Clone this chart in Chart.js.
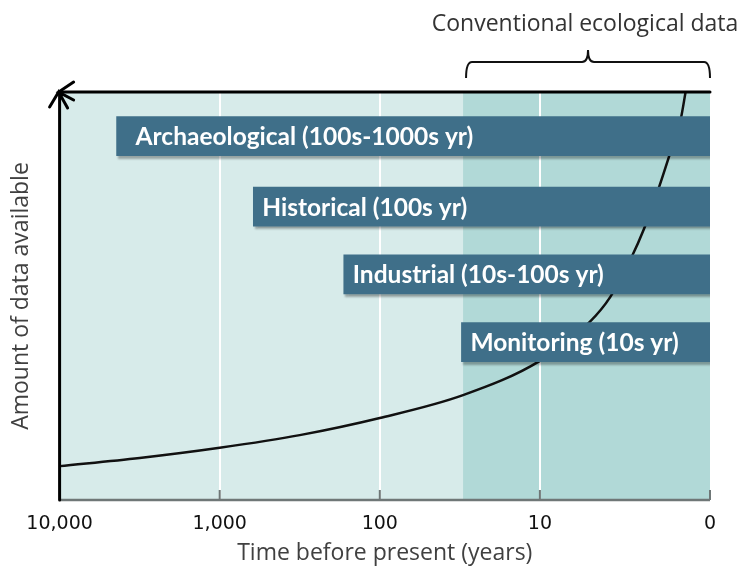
<!DOCTYPE html>
<html>
<head>
<meta charset="utf-8">
<script src="https://cdn.jsdelivr.net/npm/chart.js@4/dist/chart.umd.min.js"></script>
<style>
  html, body { margin: 0; padding: 0; background: #fff; }
  #wrap { width: 744px; height: 566px; }
</style>
</head>
<body>
<div id="wrap"><canvas id="chart"></canvas></div>
<script>
// x axis: position 0 = 10,000 years ... 3 = 10 years, right end = present
const timeTicks = [0, 1, 2, 3, 4.0625];
const timeLabels = ['10,000', '1,000', '100', '10', '0'];

// curve "amount of data available"
const curveTime = [0, 0.5, 1, 1.5, 2, 2.52, 3, 3.31, 3.44, 3.57, 3.65, 3.74, 3.81, 3.88, 3.91];
const curveAmount = [8.3, 10.3, 12.8, 15.9, 20.1, 25.7, 34.1, 43.6, 49.8, 59.3, 66.4, 76.2, 84.6, 93.4, 100];

// data source bars
const sourceLabels = ['Archaeological (100s-1000s yr)', 'Historical (100s yr)', 'Industrial (10s-100s yr)', 'Monitoring (10s yr)'];
const sourceStart = [0.356, 1.21, 1.775, 2.51];
const sourceEnd = [4.0625, 4.0625, 4.0625, 4.0625];
const sourceLevel = [89.2, 71.9, 55.3, 38.7];

const conventionalStart = 2.52;

const lightBg = '#d7ebea';
const darkBg = '#b1d9d7';
const barColor = '#3f6f89';

const decorations = {
    id: 'decorations',
    beforeDraw(chart) {
        const {ctx, chartArea: a, scales: {x}} = chart;
        const split = x.getPixelForValue(conventionalStart);
        ctx.save();
        ctx.fillStyle = lightBg;
        ctx.fillRect(a.left, a.top, split - a.left, a.bottom - a.top);
        ctx.fillStyle = darkBg;
        ctx.fillRect(split, a.top, a.right - split, a.bottom - a.top);
        ctx.restore();
    },
    beforeDatasetDraw(chart, args) {
        if (args.index === 1) {
            chart.ctx.save();
            chart.ctx.shadowColor = 'rgba(0,0,0,0.3)';
            chart.ctx.shadowOffsetX = 2;
            chart.ctx.shadowOffsetY = 3;
            chart.ctx.shadowBlur = 2;
        }
    },
    afterDatasetDraw(chart, args) {
        if (args.index === 1) chart.ctx.restore();
    },
    afterDraw(chart) {
        const {ctx, chartArea: a, scales: {x}} = chart;
        ctx.save();

        // bar labels
        const meta = chart.getDatasetMeta(1);
        ctx.fillStyle = '#ffffff';
        ctx.font = 'bold 24.5px Lato';
        ctx.textBaseline = 'middle';
        ctx.textAlign = 'left';
        meta.data.forEach((bar, i) => {
            ctx.fillText(sourceLabels[i], bar.base + (i === 0 ? 19 : 9), bar.y + 1);
        });

        // bottom axis line and inner tick marks
        ctx.strokeStyle = '#6f7777';
        ctx.lineWidth = 2.5;
        ctx.beginPath();
        ctx.moveTo(a.left, a.bottom);
        ctx.lineTo(a.right, a.bottom);
        ctx.stroke();
        ctx.lineWidth = 2;
        timeTicks.slice(1).forEach(t => {
            const px = x.getPixelForValue(t);
            ctx.beginPath();
            ctx.moveTo(px, a.bottom);
            ctx.lineTo(px, a.bottom - 10);
            ctx.stroke();
        });

        // black axes with arrows
        ctx.strokeStyle = '#000';
        ctx.lineWidth = 3;
        ctx.lineCap = 'round';
        ctx.beginPath();
        ctx.moveTo(a.left, a.bottom);
        ctx.lineTo(a.left, a.top);
        ctx.lineTo(a.right, a.top);
        ctx.stroke();
        ctx.beginPath();
        ctx.moveTo(a.left + 14, a.top - 10);
        ctx.lineTo(a.left - 1, a.top);
        ctx.lineTo(a.left + 14, a.top + 8);
        ctx.moveTo(a.left - 10, a.top + 15);
        ctx.lineTo(a.left - 1, a.top);
        ctx.lineTo(a.left + 8, a.top + 16);
        ctx.stroke();

        // bracket over conventional ecological data
        const bx0 = x.getPixelForValue(conventionalStart) + 3;
        const bx1 = a.right;
        const mid = (bx0 + bx1) / 2;
        const by = a.top - 30;
        ctx.lineWidth = 2;
        ctx.lineCap = 'butt';
        ctx.strokeStyle = '#111';
        ctx.beginPath();
        ctx.moveTo(bx0, a.top - 14);
        ctx.quadraticCurveTo(bx0, by, bx0 + 6, by);
        ctx.lineTo(mid - 6, by);
        ctx.quadraticCurveTo(mid, by, mid, by - 12);
        ctx.quadraticCurveTo(mid, by, mid + 6, by);
        ctx.lineTo(bx1 - 6, by);
        ctx.quadraticCurveTo(bx1, by, bx1, a.top - 14);
        ctx.stroke();

        ctx.fillStyle = '#333';
        ctx.font = '23px "Open Sans"';
        ctx.textAlign = 'center';
        ctx.textBaseline = 'middle';
        ctx.fillText('Conventional ecological data', mid - 3, 24);
        ctx.restore();
    }
};

new Chart(document.getElementById('chart').getContext('2d'), {
    type: 'line',
    data: {
        datasets: [
            {
                label: 'Amount of data available',
                data: curveTime.map((t, i) => ({x: t, y: curveAmount[i]})),
                borderColor: '#111',
                borderWidth: 2.5,
                pointRadius: 0,
                cubicInterpolationMode: 'monotone',
                fill: false,
                order: 1
            },
            {
                type: 'bar',
                label: 'Data sources',
                indexAxis: 'y',
                data: sourceLevel.map((lv, i) => ({x: [sourceStart[i], sourceEnd[i]], y: lv})),
                backgroundColor: barColor,
                borderWidth: 0,
                barThickness: 39,
                order: 0
            }
        ]
    },
    options: {
        responsive: true,
        maintainAspectRatio: false,
        animation: false,
        layout: { padding: { top: 92, right: 34, bottom: 0, left: 0 } },
        plugins: {
            legend: { display: false },
            tooltip: { enabled: false }
        },
        scales: {
            x: {
                type: 'linear',
                offset: false,
                min: 0,
                max: 4.0625,
                afterBuildTicks: axis => {
                    axis.ticks = timeTicks.map(v => ({value: v}));
                },
                ticks: {
                    autoSkip: false,
                    maxRotation: 0,
                    padding: 14.5,
                    color: '#111',
                    font: { family: 'DejaVu Sans', size: 19, lineHeight: 1 },
                    callback: (v, i) => timeLabels[i]
                },
                grid: {
                    offset: false,
                    drawTicks: false,
                    lineWidth: 2,
                    color: ctx => (ctx.index > 0 && ctx.index < timeTicks.length - 1) ? '#ffffff' : 'rgba(0,0,0,0)'
                },
                border: { display: false },
                title: {
                    display: true,
                    text: 'Time before present (years)',
                    color: '#404040',
                    font: { family: 'Open Sans', size: 23, lineHeight: 0.435 },
                    padding: { top: 0, bottom: 8 }
                }
            },
            y: {
                type: 'linear',
                offset: false,
                min: 0,
                max: 100,
                ticks: { display: false },
                grid: { display: false, drawTicks: false, offset: false },
                border: { display: false },
                title: {
                    display: true,
                    text: 'Amount of data available',
                    color: '#404040',
                    font: { family: 'Open Sans', size: 23 },
                    padding: { top: 8, bottom: 24 }
                }
            }
        }
    },
    plugins: [decorations]
});
</script>
</body>
</html>
